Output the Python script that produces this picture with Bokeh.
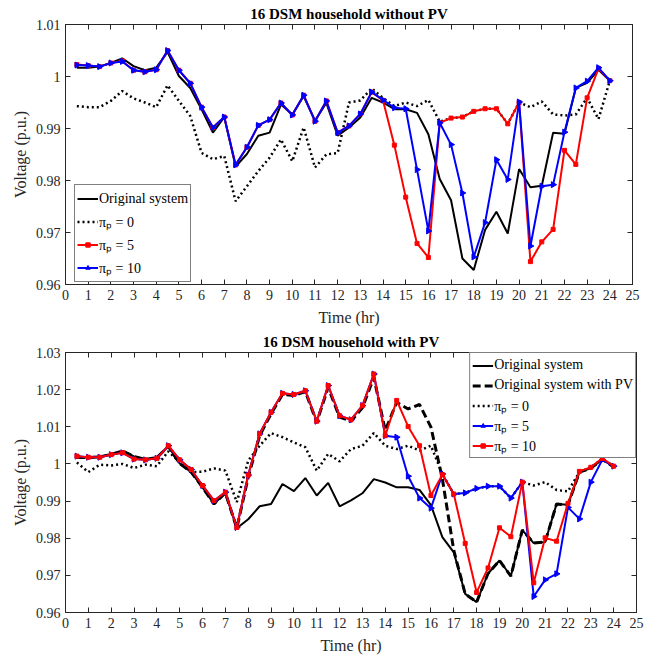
from bokeh.plotting import figure
from bokeh.models import (Range1d, FixedTicker, LinearAxis, CustomJSTickFormatter,
                          Legend, LegendItem)
from bokeh.layouts import column
from bokeh.embed import file_html
from bokeh.resources import INLINE

# ---------------- data ----------------
hours = [0.5, 1.0, 1.5, 2.0, 2.5, 3.0, 3.5, 4.0, 4.5, 5.0, 5.5, 6.0,
         6.5, 7.0, 7.5, 8.0, 8.5, 9.0, 9.5, 10.0, 10.5, 11.0, 11.5, 12.0,
         12.5, 13.0, 13.5, 14.0, 14.5, 15.0, 15.5, 16.0, 16.5, 17.0, 17.5, 18.0,
         18.5, 19.0, 19.5, 20.0, 20.5, 21.0, 21.5, 22.0, 22.5, 23.0, 23.5, 24.0]

original = [1.0017, 1.0017, 1.0019, 1.0026, 1.0035, 1.0020, 1.0012, 1.0017, 1.0047,
            1.0001, 0.9978, 0.9937, 0.9892, 0.9922, 0.9827, 0.9851, 0.9886, 0.9892,
            0.9946, 0.9927, 0.9962, 0.9915, 0.9949, 0.9886, 0.9902, 0.9921, 0.9959,
            0.9950, 0.9937, 0.9937, 0.9930, 0.9889,
            0.9803, 0.9762, 0.9650, 0.9628, 0.9705, 0.9740, 0.9698, 0.9822,
            0.9787, 0.9790, 0.9892, 0.9890, 0.9978, 0.9988, 1.0013, 0.9992]

# top chart: without PV
top_p0 = [0.9943, 0.9941, 0.9941, 0.9953, 0.9972, 0.9958, 0.9950, 0.9941, 0.9983,
          0.9953, 0.9924, 0.9853, 0.9841, 0.9847, 0.9760, 0.9789, 0.9818, 0.9844,
          0.9879, 0.9837, 0.9902, 0.9825, 0.9850, 0.9853, 0.9950, 0.9954, 0.9977,
          0.9959, 0.9943, 0.9950, 0.9943, 0.9955,
          0.9913, 0.9920, 0.9922, 0.9933, 0.9938, 0.9938, 0.9909, 0.9950,
          0.9941, 0.9952, 0.9927, 0.9925, 0.9927, 0.9959, 0.9918, 0.9992]

top_p5 = [1.0023, 1.0021, 1.0019, 1.0026, 1.0030, 1.0012, 1.0009, 1.0013, 1.0050,
          1.0012, 0.9987, 0.9941, 0.9902, 0.9922, 0.9830, 0.9864, 0.9906, 0.9917,
          0.9949, 0.9926, 0.9964, 0.9914, 0.9953, 0.9892, 0.9905, 0.9928, 0.9970,
          0.9954, 0.9868, 0.9768, 0.9679, 0.9652,
          0.9911, 0.9920, 0.9922, 0.9933, 0.9938, 0.9938, 0.9909, 0.9950,
          0.9644, 0.9682, 0.9706, 0.9858, 0.9831, 0.9959, 1.0015, 0.9992]

top_p10 = [1.0022, 1.0021, 1.0019, 1.0026, 1.0029, 1.0012, 1.0009, 1.0013, 1.0050,
           1.0012, 0.9987, 0.9941, 0.9902, 0.9922, 0.9830, 0.9864, 0.9906, 0.9917,
           0.9949, 0.9926, 0.9964, 0.9914, 0.9953, 0.9892, 0.9905, 0.9928, 0.9970,
           0.9955, 0.9940, 0.9938, 0.9821, 0.9703,
           0.9911, 0.9869, 0.9776, 0.9653, 0.9719, 0.9840, 0.9802, 0.9951,
           0.9674, 0.9789, 0.9792, 0.9893, 0.9978, 0.9991, 1.0017, 0.9992]

# bottom chart: with PV
bot_pv = [1.0017, 1.0017, 1.0019, 1.0026, 1.0035, 1.0020, 1.0012, 1.0017, 1.0047,
          1.0001, 0.9978, 0.9937, 0.9892, 0.9922, 0.9827, 0.9964, 1.0076, 1.0135,
          1.0187, 1.0184, 1.0195, 1.0112, 1.0206, 1.0126, 1.0115, 1.0151, 1.0233,
          1.0090, 1.0166, 1.0148, 1.0160, 1.0099,
          0.9960, 0.9767, 0.9650, 0.9628, 0.9705, 0.9740, 0.9698, 0.9822,
          0.9787, 0.9790, 0.9892, 0.9890, 0.9978, 0.9988, 1.0013, 0.9992]

bot_p0 = [1.0004, 0.9978, 0.9998, 0.9996, 1.0000, 0.9989, 0.9998, 0.9994, 1.0034,
          1.0004, 0.9978, 0.9979, 0.9988, 0.9982, 0.9897, 1.0009, 1.0049, 1.0083,
          1.0072, 1.0058, 1.0045, 0.9982, 1.0027, 1.0007, 1.0040, 1.0049, 1.0083,
          1.0049, 1.0040, 1.0049, 1.0036, 1.0049,
          0.9973, 0.9919, 0.9922, 0.9934, 0.9940, 0.9940, 0.9908, 0.9951,
          0.9942, 0.9951, 0.9930, 0.9926, 0.9978, 0.9991, 1.0013, 0.9994]

bot_p5 = [1.0021, 1.0018, 1.0018, 1.0025, 1.0030, 1.0013, 1.0011, 1.0015, 1.0049,
          1.0011, 0.9985, 0.9942, 0.9901, 0.9924, 0.9829, 0.9970, 1.0081, 1.0139,
          1.0190, 1.0187, 1.0197, 1.0115, 1.0211, 1.0130, 1.0119, 1.0157, 1.0242,
          1.0076, 1.0072, 0.9967, 0.9908, 0.9881,
          0.9973, 0.9919, 0.9922, 0.9934, 0.9940, 0.9940, 0.9908, 0.9951,
          0.9643, 0.9688, 0.9704, 0.9883, 0.9852, 0.9951, 1.0011, 0.9994]

bot_p10 = [1.0021, 1.0018, 1.0018, 1.0025, 1.0030, 1.0013, 1.0011, 1.0015, 1.0049,
           1.0011, 0.9985, 0.9942, 0.9901, 0.9924, 0.9829, 0.9970, 1.0081, 1.0139,
           1.0190, 1.0187, 1.0197, 1.0115, 1.0211, 1.0130, 1.0119, 1.0157, 1.0242,
           1.0076, 1.0171, 1.0101, 1.0049, 0.9915,
           0.9971, 0.9919, 0.9786, 0.9654, 0.9720, 0.9828, 0.9804, 0.9951,
           0.9680, 0.9801, 0.9792, 0.9894, 0.9980, 0.9991, 1.0015, 0.9994]

x_ticks = list(range(0, 26))
top_y_ticks = [0.96, 0.97, 0.98, 0.99, 1.00, 1.01]
bot_y_ticks = [0.96, 0.97, 0.98, 0.99, 1.00, 1.01, 1.02, 1.03]

# ---------------- styling helpers ----------------
FONT = "Liberation Serif"
AX = "#262626"
RED = "#ff0000"
BLUE = "#0000ff"

fmt_num = CustomJSTickFormatter(
    code="return tick.toFixed(2).replace(/0+$/, '').replace(/\\.$/, '');")
fmt_blank = CustomJSTickFormatter(code="return '';")


def make_fig(title, y_lo, y_hi, y_ticks, fw, fh, left, right, top, bottom):
    p = figure(frame_width=fw, frame_height=fh,
               x_range=Range1d(0, 25), y_range=Range1d(y_lo, y_hi),
               output_backend="svg", toolbar_location=None,
               min_border_left=left, min_border_right=right,
               min_border_top=top, min_border_bottom=bottom,
               x_axis_label="Time (hr)", y_axis_label="Voltage (p.u.)")
    p.title.text = title
    p.title.align = "center"
    p.title.text_font = FONT
    p.title.text_font_size = "15px"
    p.title.text_font_style = "bold"
    p.title.text_color = "#000000"
    p.title.standoff = 6
    p.title.offset = 0
    p.grid.visible = False
    p.outline_line_color = AX
    p.outline_line_width = 1
    p.background_fill_color = "white"
    p.border_fill_color = "white"

    for ax in p.xaxis:
        ax.ticker = FixedTicker(ticks=x_ticks)
    for ax in p.yaxis:
        ax.ticker = FixedTicker(ticks=y_ticks)
        ax.formatter = fmt_num
    for ax in list(p.xaxis) + list(p.yaxis):
        ax.major_tick_in = 5
        ax.major_tick_out = 0
        ax.minor_tick_line_color = None
        ax.axis_line_color = AX
        ax.major_tick_line_color = AX
        ax.major_label_text_font = FONT
        ax.major_label_text_font_size = "14px"
        ax.major_label_text_color = AX
        ax.major_label_standoff = 5
        ax.axis_label_text_font = FONT
        ax.axis_label_text_font_size = "16px"
        ax.axis_label_text_font_style = "normal"
        ax.axis_label_text_color = AX
    for ax in p.xaxis:
        ax.axis_label_standoff = 6
    for ax in p.yaxis:
        ax.axis_label_standoff = 4

    top_ax = LinearAxis(ticker=FixedTicker(ticks=x_ticks), formatter=fmt_blank,
                        major_tick_in=5, major_tick_out=0, major_label_standoff=0,
                        minor_tick_line_color=None, axis_line_color=AX,
                        major_tick_line_color=AX, major_label_text_font_size="1px")
    right_ax = LinearAxis(ticker=FixedTicker(ticks=y_ticks), formatter=fmt_blank,
                          major_tick_in=5, major_tick_out=0, major_label_standoff=0,
                          minor_tick_line_color=None, axis_line_color=AX,
                          major_tick_line_color=AX, major_label_text_font_size="1px")
    p.add_layout(top_ax, "above")
    p.add_layout(right_ax, "right")
    return p


def style_legend(leg, lh):
    leg.label_text_font = FONT
    leg.label_text_font_size = "14px"
    leg.label_text_color = "#000000"
    leg.border_line_color = "#000000"
    leg.border_line_width = 1
    leg.background_fill_color = "white"
    leg.background_fill_alpha = 1.0
    leg.padding = 2
    leg.spacing = 0
    leg.margin = 0
    leg.label_height = lh
    leg.glyph_height = 11
    leg.glyph_width = 21
    leg.label_standoff = 1


# ---------------- top figure ----------------
p1 = make_fig("16 DSM household without PV", 0.96, 1.01, top_y_ticks,
              567, 260, 65, 17, 24, 44)

r_orig = p1.line(hours, original, line_color="black", line_width=2)
r_p0 = p1.line(hours, top_p0, line_color="black", line_width=2.5, line_dash="2 3")
r_p5 = p1.line(hours, top_p5, line_color=RED, line_width=2)
m_p5 = p1.scatter(hours, top_p5, marker="square", size=4, fill_color=RED,
                  line_color=RED)
r_p10 = p1.line(hours, top_p10, line_color=BLUE, line_width=2)
m_p10 = p1.scatter(hours, top_p10, marker="triangle", size=6, angle=-90,
                   angle_units="deg", fill_color=BLUE, line_color=BLUE)

leg1 = Legend(items=[
    LegendItem(label="Original system", renderers=[r_orig]),
    LegendItem(label="\u03c0\u209a = 0", renderers=[r_p0]),
    LegendItem(label="\u03c0\u209a = 5", renderers=[r_p5, m_p5]),
    LegendItem(label="\u03c0\u209a = 10", renderers=[r_p10, m_p10]),
], location=(9, 2))
style_legend(leg1, 23)
p1.add_layout(leg1, "center")

# ---------------- bottom figure ----------------
p2 = make_fig("16 DSM household with PV", 0.96, 1.03, bot_y_ticks,
              571, 260, 62, 16, 24, 44)

q_orig = p2.line(hours, original, line_color="black", line_width=2)
q_pv = p2.line(hours, bot_pv, line_color="black", line_width=3, line_dash="8 4")
q_p0 = p2.line(hours, bot_p0, line_color="black", line_width=2.5, line_dash="2 3")
q_p5 = p2.line(hours, bot_p5, line_color=BLUE, line_width=2)
n_p5 = p2.scatter(hours, bot_p5, marker="triangle", size=6, angle=-90,
                  angle_units="deg", fill_color=BLUE, line_color=BLUE)
q_p10 = p2.line(hours, bot_p10, line_color=RED, line_width=2)
n_p10 = p2.scatter(hours, bot_p10, marker="square", size=4, fill_color=RED,
                   line_color=RED)

leg2 = Legend(items=[
    LegendItem(label="Original system", renderers=[q_orig]),
    LegendItem(label="Original system with PV", renderers=[q_pv]),
    LegendItem(label="\u03c0\u209a = 0", renderers=[q_p0]),
    LegendItem(label="\u03c0\u209a = 5", renderers=[q_p5, n_p5]),
    LegendItem(label="\u03c0\u209a = 10", renderers=[q_p10, n_p10]),
], location="top_right")
style_legend(leg2, 20)
p2.add_layout(leg2, "center")

layout = column(p1, p2, spacing=0)
open("out.html", "w").write(file_html(layout, INLINE))
